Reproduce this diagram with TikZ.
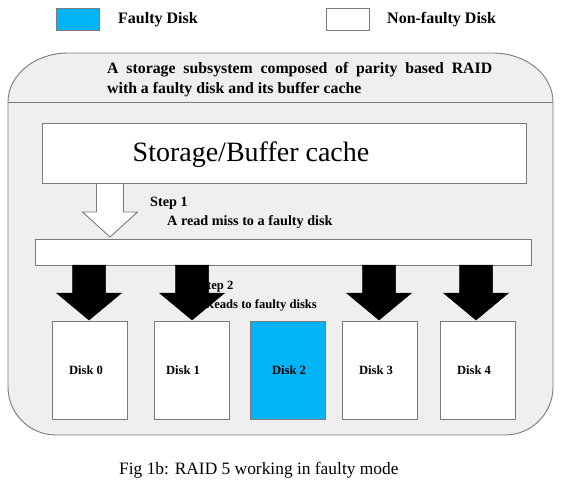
\documentclass[tikz,border=0pt]{standalone}
\usepackage{fontspec}
\setmainfont{Liberation Serif}
\definecolor{panel}{HTML}{EFEFEF}
\definecolor{edge}{HTML}{7A7A7A}
\definecolor{faulty}{HTML}{00B4F5}
\tikzset{
  boxstyle/.style={draw=edge, line width=0.9pt, fill=white, inner sep=0pt},
  disk/.style={boxstyle, minimum width=75pt, minimum height=98pt, anchor=north west},
  legendtxt/.style={inner sep=0pt, anchor=west, font=\fontsize{16}{18}\selectfont\bfseries},
  headtxt/.style={inner sep=0pt, anchor=west, font=\fontsize{15.8}{18}\selectfont\bfseries},
  steptxt/.style={inner sep=0pt, anchor=west, font=\fontsize{14.2}{16}\selectfont\bfseries},
  steptxtb/.style={inner sep=0pt, anchor=west, font=\fontsize{12.6}{14}\selectfont\bfseries},
  disktxt/.style={inner sep=0pt, font=\fontsize{12.6}{14}\selectfont\bfseries},
  hollowarrow/.style={draw=edge, line width=0.9pt, fill=white},
  solidarrow/.style={fill=black, draw=black, line width=0.5pt}
}
% block arrow: #1 centre x, #2 top y, #3 head start y, #4 tip y, #5 shaft half width, #6 head half width, #7 style
\newcommand\blockarr[7]{%
  \path[#7] (#1-#5,#2) -- (#1+#5,#2) -- (#1+#5,#3) -- (#1+#6,#3) -- (#1,#4)
    -- (#1-#6,#3) -- (#1-#5,#3) -- cycle;}
\begin{document}
\begin{tikzpicture}[x=1pt,y=-1pt]
\useasboundingbox[fill=white] (0,0) rectangle (568,483);

% legend
\node[boxstyle, fill=faulty, minimum width=43pt, minimum height=22pt, anchor=north west] (legf) at (56,8) {};
\node[legendtxt] (legft) at (118,20) {Faulty Disk};
\node[boxstyle, minimum width=43pt, minimum height=22pt, anchor=north west] (legn) at (326,8) {};
\node[legendtxt] (legnt) at (387,20) {Non-faulty Disk};

% outer panel
\path[draw=edge, line width=0.9pt, fill=panel]
  (8,102) arc[start angle=180, end angle=270, x radius=60, y radius=49]
  -- (493,53) arc[start angle=270, end angle=360, x radius=60, y radius=49]
  -- (553,387) arc[start angle=0, end angle=90, radius=48]
  -- (56,435) arc[start angle=90, end angle=180, radius=48] -- cycle;
\coordinate (divl) at (8,102);
\coordinate (divr) at (553,102);
\draw[edge, line width=0.9pt] (divl) -- (divr);

% header text
\node[headtxt] (head1) at (107,70) {\makebox[385pt][s]{A storage subsystem composed of parity based RAID}};
\node[headtxt] (head2) at (107,90) {with a faulty disk and its buffer cache};

% storage / buffer cache
\node[boxstyle, minimum width=484pt, minimum height=60pt, anchor=north west] (cache) at (42,123) {};
\node[inner sep=0pt, font=\fontsize{28}{30}\selectfont] (cachet) at (251,155) {Storage/Buffer cache};

% bar
\node[boxstyle, minimum width=496pt, minimum height=26pt, anchor=north west] (bar) at (35,239) {};

% step 1
\blockarr{110}{183.5}{212}{237}{13.5}{27.5}{hollowarrow}
\node[steptxt] (s1) at (150,203) {Step 1};
\node[steptxt] (s1b) at (167,222) {A read miss to a faulty disk};

% step 2 text (partly hidden by arrows)
\node[steptxtb] (s2) at (200,287) {Step 2};
\node[steptxtb] (s2b) at (205,305) {Reads to faulty disks};

% black arrows
\blockarr{89}{265}{293}{320}{16.5}{32.5}{solidarrow}
\blockarr{192}{265}{293}{320}{16.5}{32.5}{solidarrow}
\blockarr{379}{265}{293}{320}{16.5}{32.5}{solidarrow}
\blockarr{476}{265}{293}{320}{16.5}{32.5}{solidarrow}

% disks
\node[disk] (d0) at (52,321) {};
\node[disk] (d1) at (154,321) {};
\node[disk, fill=faulty] (d2) at (250,321) {};
\node[disk] (d3) at (342,321) {};
\node[disk] (d4) at (440,321) {};
\node[disktxt] (d0t) at (86,370) {Disk 0};
\node[disktxt] (d1t) at (183,370) {Disk 1};
\node[disktxt] (d2t) at (289,370) {Disk 2};
\node[disktxt] (d3t) at (376,370) {Disk 3};
\node[disktxt] (d4t) at (474,370) {Disk 4};

% caption
\node[inner sep=0pt, anchor=west, font=\fontsize{17.4}{20}\selectfont] (cap) at (119,470) {Fig 1b: RAID 5 working in faulty mode};
\end{tikzpicture}
\end{document}
